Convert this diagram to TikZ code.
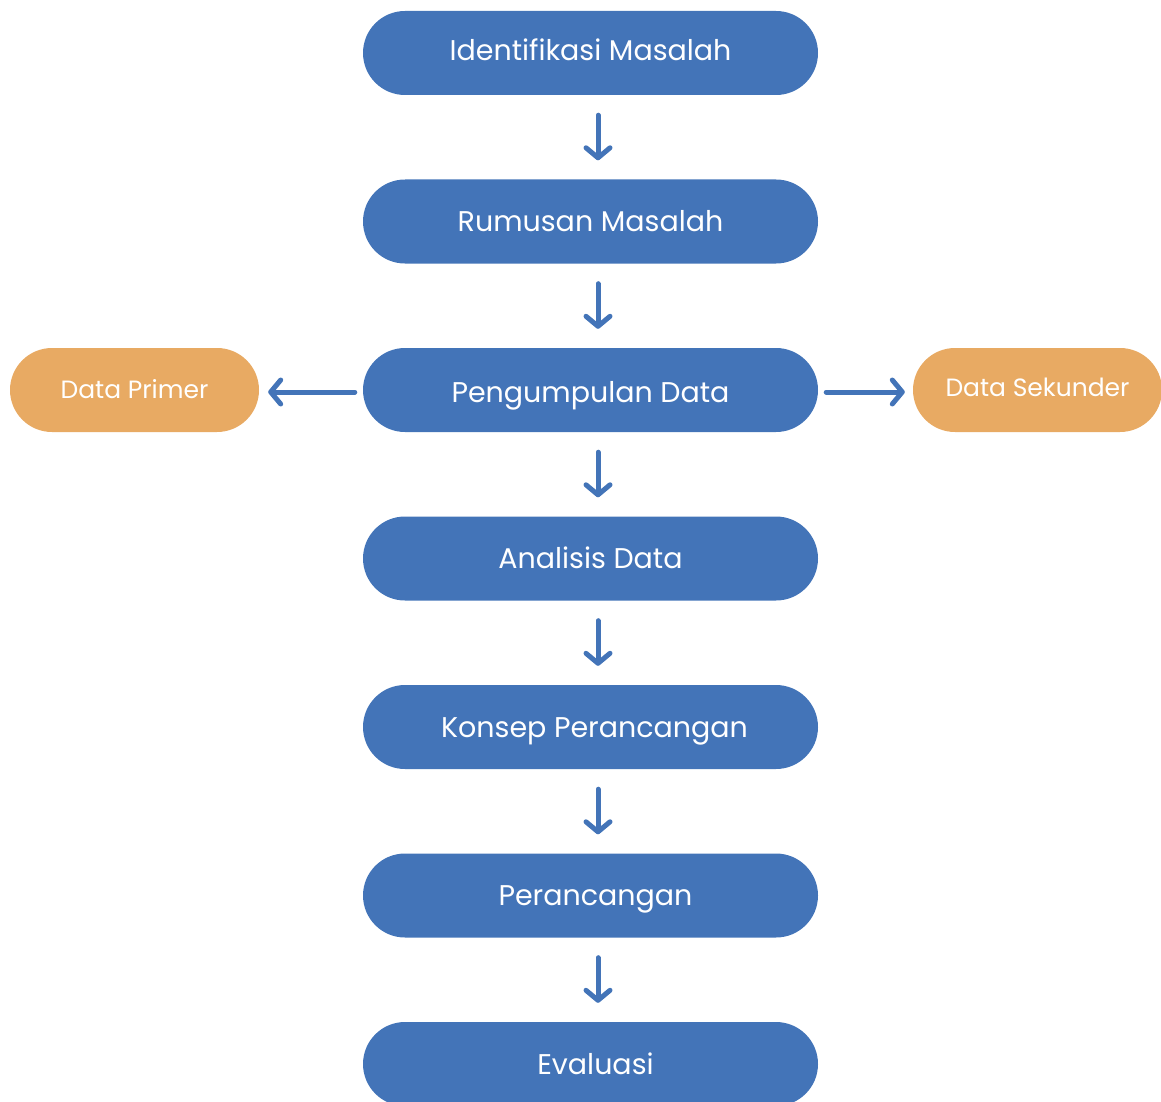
\documentclass[tikz,border=0pt]{standalone}
\usepackage{fontspec}
\setmainfont{Poppins}
\usetikzlibrary{arrows.meta}
\definecolor{boxblue}{HTML}{4374B8}
\definecolor{boxorange}{HTML}{E8AA63}
\begin{document}
\begin{tikzpicture}[x=1pt,y=-1pt,
  pill/.style={fill=boxblue,draw=none,rounded corners=42pt,minimum width=455pt,minimum height=84pt,inner sep=0pt,text=white,text height=20pt,text depth=0pt,font=\fontsize{28.5}{32}\selectfont},
  opill/.style={fill=boxorange,draw=none,rounded corners=42pt,minimum width=249pt,minimum height=84pt,inner sep=0pt,text=white,text height=17.5pt,text depth=0pt,font=\fontsize{25}{30}\selectfont},
  flow/.style={draw=boxblue,line width=5pt,line cap=round,-{Straight Barb[length=10pt,width=24pt,round,line width=5pt]}},
]
\useasboundingbox (0,0) rectangle (1161,1102);
\clip (0,0) rectangle (1161,1102);
\node[pill] (a) at (590.5,53) {\raisebox{2pt}{Identifikasi Masalah}};
\node[pill] (b) at (590.5,221.5) {Rumusan Masalah};
\node[pill] (c) at (590.5,390) {\raisebox{-2pt}{Pengumpulan Data}};
\node[pill] (d) at (590.5,558.5) {Analisis Data};
\node[pill] (e) at (590.5,727) {\hspace*{8pt}Konsep Perancangan};
\node[pill] (f) at (590.5,895.5) {\hspace*{10pt}Perancangan};
\node[pill] (g) at (590.5,1064) {\hspace*{10pt}Evaluasi};
\node[opill] (p) at (134.5,390) {Data Primer};
\node[opill] (s) at (1037.5,390) {\raisebox{2pt}{Data Sekunder}};
\foreach \u/\v in {a/b,b/c,c/d,d/e,e/f,f/g}{
  \draw[flow,shorten <=20pt,shorten >=19pt] ([xshift=7.5pt]\u.south) -- ([xshift=7.5pt]\v.north);
}
\draw[flow,shorten <=8pt,shorten >=9pt] ([yshift=-2pt]c.west) -- ([yshift=-2pt]p.east);
\draw[flow,shorten <=8pt,shorten >=8pt] ([yshift=-2pt]c.east) -- ([yshift=-2pt]s.west);
\end{tikzpicture}
\end{document}
